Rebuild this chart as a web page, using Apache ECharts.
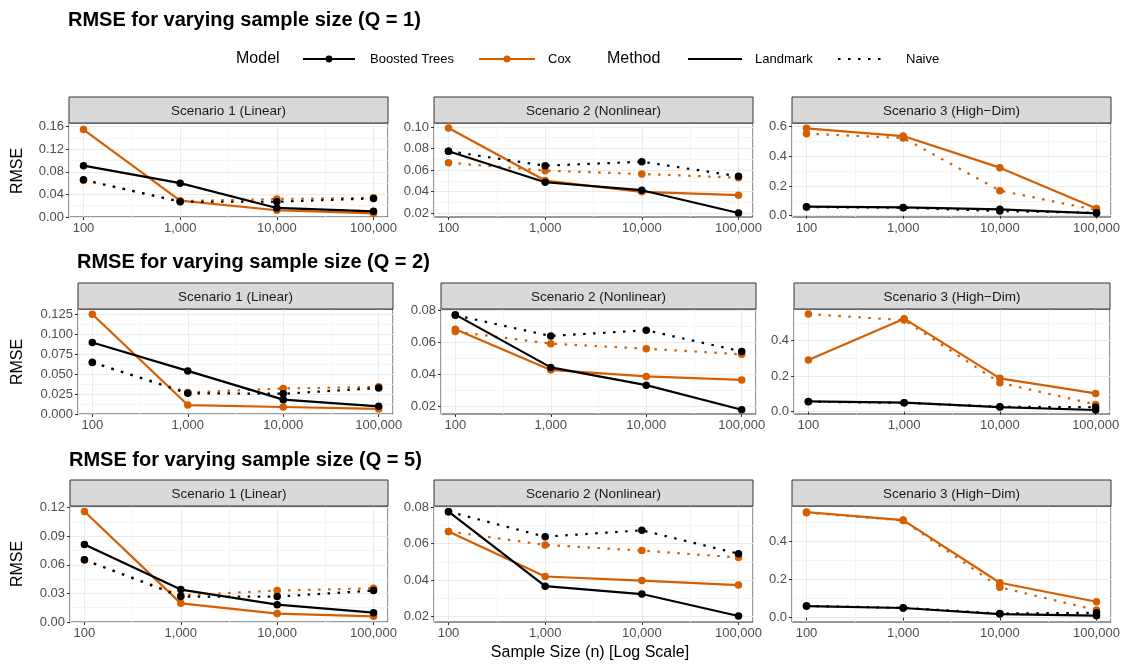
<!DOCTYPE html>
<html>
<head>
<meta charset="utf-8">
<script src="https://cdn.jsdelivr.net/npm/echarts@6/dist/echarts.min.js"></script>
<style>
  html, body { margin: 0; padding: 0; background: #fff; }
  #chart { width: 1129px; height: 668px; }
</style>
</head>
<body>
<div id="chart"></div>
<script>
const sampleSizes = [100, 1000, 10000, 100000];
const qLabels = ['Q = 1', 'Q = 2', 'Q = 5'];
const scenarioNames = ['Scenario 1 (Linear)', 'Scenario 2 (Nonlinear)', 'Scenario 3 (High\u2212Dim)'];

// RMSE per sample size; one row per scenario
const boostedLandmarkQ1 = [[0.091, 0.060, 0.016, 0.010], [0.0775, 0.0486, 0.0412, 0.020], [0.061, 0.056, 0.043, 0.016]];
const boostedNaiveQ1    = [[0.066, 0.027, 0.027, 0.033], [0.0775, 0.064, 0.0677, 0.0542], [0.058, 0.054, 0.031, 0.020]];
const coxLandmarkQ1     = [[0.155, 0.029, 0.012, 0.0065], [0.099, 0.0502, 0.0397, 0.0366], [0.589, 0.537, 0.324, 0.049]];
const coxNaiveQ1        = [[0.065, 0.028, 0.032, 0.034], [0.0668, 0.0594, 0.0563, 0.0529], [0.553, 0.524, 0.169, 0.038]];

const boostedLandmarkQ2 = [[0.0896, 0.054, 0.018, 0.0096], [0.0771, 0.0444, 0.0334, 0.0181], [0.058, 0.051, 0.026, 0.0094]];
const boostedNaiveQ2    = [[0.0646, 0.026, 0.0254, 0.0325], [0.0767, 0.0639, 0.0674, 0.0543], [0.056, 0.050, 0.028, 0.025]];
const coxLandmarkQ2     = [[0.125, 0.0112, 0.0088, 0.0063], [0.068, 0.0428, 0.0388, 0.0366], [0.291, 0.524, 0.188, 0.103]];
const coxNaiveQ2        = [[0.065, 0.027, 0.032, 0.034], [0.0666, 0.0591, 0.056, 0.0525], [0.550, 0.516, 0.163, 0.041]];

const boostedLandmarkQ5 = [[0.0814, 0.034, 0.0182, 0.0098], [0.0775, 0.0367, 0.0324, 0.0204], [0.061, 0.051, 0.019, 0.0105]];
const boostedNaiveQ5    = [[0.0653, 0.0267, 0.0267, 0.033], [0.0775, 0.0638, 0.0673, 0.0545], [0.062, 0.052, 0.022, 0.026]];
const coxLandmarkQ5     = [[0.116, 0.0196, 0.0088, 0.006], [0.0667, 0.042, 0.0398, 0.0373], [0.556, 0.514, 0.184, 0.084]];
const coxNaiveQ5        = [[0.065, 0.028, 0.033, 0.0354], [0.0667, 0.0593, 0.0562, 0.0524], [0.553, 0.512, 0.160, 0.040]];

// y breaks and limits per panel (row = Q, column = scenario)
const yBreaks = [
  [[0, 0.04, 0.08, 0.12, 0.16], [0.02, 0.04, 0.06, 0.08, 0.10], [0, 0.2, 0.4, 0.6]],
  [[0, 0.025, 0.05, 0.075, 0.1, 0.125], [0.02, 0.04, 0.06, 0.08], [0, 0.2, 0.4]],
  [[0, 0.03, 0.06, 0.09, 0.12], [0.02, 0.04, 0.06, 0.08], [0, 0.2, 0.4]]
];
const yLimits = [
  [[0, 0.1666], [0.0163, 0.1037], [-0.0088, 0.625]],
  [[0, 0.1316], [0.0155, 0.0806], [-0.013, 0.5786]],
  [[0, 0.1218], [0.0171, 0.0806], [-0.0226, 0.588]]
];
const yDecimals = [[2, 2, 1], [3, 2, 1], [2, 2, 1]];

const FONT = 'Liberation Sans, Arial, Helvetica, sans-serif';
const ORANGE = '#D55E00';
const X_MIN = 70.7946, X_MAX = 141253.75; // 5% expansion of 100..100000 in log space

// panel placement, in pixels
const rows = [
  { titleTop: 10, stripTop: 97, top: 123, height: 94, lefts: [69, 434, 792], widths: [319, 319, 319], ynameY: 171 },
  { titleTop: 252, stripTop: 283, top: 309, height: 105, lefts: [78, 441, 794], widths: [315, 315, 316], ynameY: 362 },
  { titleTop: 450, stripTop: 480, top: 506, height: 116, lefts: [70, 434, 792], widths: [318, 319, 319], ynameY: 564 }
];

const groups = [
  { model: 'Boosted Trees', method: 'Landmark', color: '#000000', dotted: false, values: [boostedLandmarkQ1, boostedLandmarkQ2, boostedLandmarkQ5] },
  { model: 'Boosted Trees', method: 'Naive', color: '#000000', dotted: true, values: [boostedNaiveQ1, boostedNaiveQ2, boostedNaiveQ5] },
  { model: 'Cox', method: 'Landmark', color: ORANGE, dotted: false, values: [coxLandmarkQ1, coxLandmarkQ2, coxLandmarkQ5] },
  { model: 'Cox', method: 'Naive', color: ORANGE, dotted: true, values: [coxNaiveQ1, coxNaiveQ2, coxNaiveQ5] }
];

const majorGrid = { show: true, lineStyle: { color: '#EBEBEB', width: 1 } };
const minorGrid = { show: true, lineStyle: { color: '#F3F3F3', width: 0.8 } };

const grid = [], xAxis = [], gridXAxis = [], yAxis = [], series = [], graphic = [], title = [];

rows.forEach((row, r) => {
  title.push({
    text: 'RMSE for varying sample size (' + qLabels[r] + ')',
    left: row.lefts[0] - 1, top: row.titleTop, padding: 0,
    textStyle: { fontFamily: FONT, fontSize: 20, fontWeight: 'bold', color: '#000' }
  });
  graphic.push({
    type: 'text', x: 18, y: row.ynameY, rotation: Math.PI / 2,
    style: { text: 'RMSE', fontFamily: FONT, fontSize: 16, fill: '#000', align: 'center', verticalAlign: 'middle' }
  });

  for (let c = 0; c < 3; c++) {
    const p = r * 3 + c;
    const left = row.lefts[c], width = row.widths[c];
    grid.push({
      left: left, top: row.top, width: width, height: row.height,
      show: true, borderColor: '#333333', borderWidth: 1, backgroundColor: '#fff'
    });
    // data axis (log scale)
    xAxis.push({
      type: 'log', logBase: 10, gridIndex: p,
      min: X_MIN, max: X_MAX,
      axisLine: { show: false },
      axisTick: { show: true, length: 3, lineStyle: { color: '#333' }, customValues: sampleSizes },
      axisLabel: {
        customValues: sampleSizes, margin: 5, color: '#4D4D4D', fontFamily: FONT, fontSize: 13,
        formatter: v => Number(v).toLocaleString('en-US')
      },
      splitLine: { show: false }
    });
    // companion axis in log10 units, only for the major/minor grid lines
    gridXAxis.push({
      type: 'value', gridIndex: p, position: 'top',
      min: Math.log10(X_MIN), max: Math.log10(X_MAX),
      minInterval: 1, maxInterval: 1,
      axisLine: { show: false }, axisTick: { show: false }, axisLabel: { show: false },
      splitLine: majorGrid,
      minorTick: { show: false, splitNumber: 2 },
      minorSplitLine: minorGrid
    });
    const breaks = yBreaks[r][c];
    const step = breaks[1] - breaks[0];
    const dec = yDecimals[r][c];
    yAxis.push({
      type: 'value', gridIndex: p,
      min: yLimits[r][c][0], max: yLimits[r][c][1],
      minInterval: step, maxInterval: step,
      axisLine: { show: false },
      axisTick: { show: true, length: 3, lineStyle: { color: '#333' }, customValues: breaks },
      axisLabel: {
        customValues: breaks, margin: 5, color: '#4D4D4D', fontFamily: FONT, fontSize: 13,
        formatter: v => Number(v).toFixed(dec)
      },
      splitLine: majorGrid,
      minorTick: { show: false, splitNumber: 2 },
      minorSplitLine: minorGrid
    });

    // facet strip
    graphic.push({
      type: 'rect', shape: { x: left, y: row.stripTop, width: width, height: row.top - row.stripTop },
      style: { fill: '#D9D9D9', stroke: '#333333', lineWidth: 1 }, z: 10
    });
    graphic.push({
      type: 'text', x: left + width / 2, y: (row.stripTop + row.top) / 2 + 1, z: 11,
      style: { text: scenarioNames[c], fontFamily: FONT, fontSize: 13.5, fill: '#1A1A1A', align: 'center', verticalAlign: 'middle' }
    });

    groups.forEach(g => {
      series.push({
        name: g.model + ' / ' + g.method,
        type: 'line', xAxisIndex: p, yAxisIndex: p,
        data: sampleSizes.map((n, i) => [n, g.values[r][c][i]]),
        symbol: 'circle', symbolSize: 7.5, showSymbol: true,
        itemStyle: { color: g.color },
        lineStyle: { color: g.color, width: 2.2, type: g.dotted ? [2.5, 7.5] : 'solid' },
        z: g.color === ORANGE ? 3 : 4,
        animation: false
      });
    });
  }
});

// x-axis title
graphic.push({
  type: 'text', x: 590, y: 653,
  style: { text: 'Sample Size (n) [Log Scale]', fontFamily: FONT, fontSize: 16, fill: '#000', align: 'center', verticalAlign: 'middle' }
});

// legend
const legendY = 59;
function legendText(x, text, size) {
  graphic.push({ type: 'text', x: x, y: legendY, style: { text: text, fontFamily: FONT, fontSize: size, fill: '#000', verticalAlign: 'middle' } });
}
function legendLine(x1, x2, color, dotted, point) {
  graphic.push({
    type: 'line', shape: { x1: x1, y1: legendY, x2: x2, y2: legendY },
    style: { stroke: color, lineWidth: 2.2, lineDash: dotted ? [2.5, 7.5] : null }
  });
  if (point) {
    graphic.push({ type: 'circle', shape: { cx: (x1 + x2) / 2, cy: legendY, r: 3.4 }, style: { fill: color } });
  }
}
legendText(236, 'Model', 16);
legendLine(303, 355, '#000', false, true);
legendText(370, 'Boosted Trees', 13);
legendLine(479, 535, ORANGE, false, true);
legendText(548, 'Cox', 13);
legendText(607, 'Method', 16);
legendLine(688, 742, '#000', false, false);
legendText(755, 'Landmark', 13);
legendLine(838, 884, '#000', true, false);
legendText(906, 'Naive', 13);

const chart = echarts.init(document.getElementById('chart'));
chart.setOption({
  backgroundColor: '#ffffff',
  animation: false,
  title: title,
  grid: grid,
  xAxis: xAxis.concat(gridXAxis),
  yAxis: yAxis,
  series: series,
  graphic: graphic
});
</script>
</body>
</html>
